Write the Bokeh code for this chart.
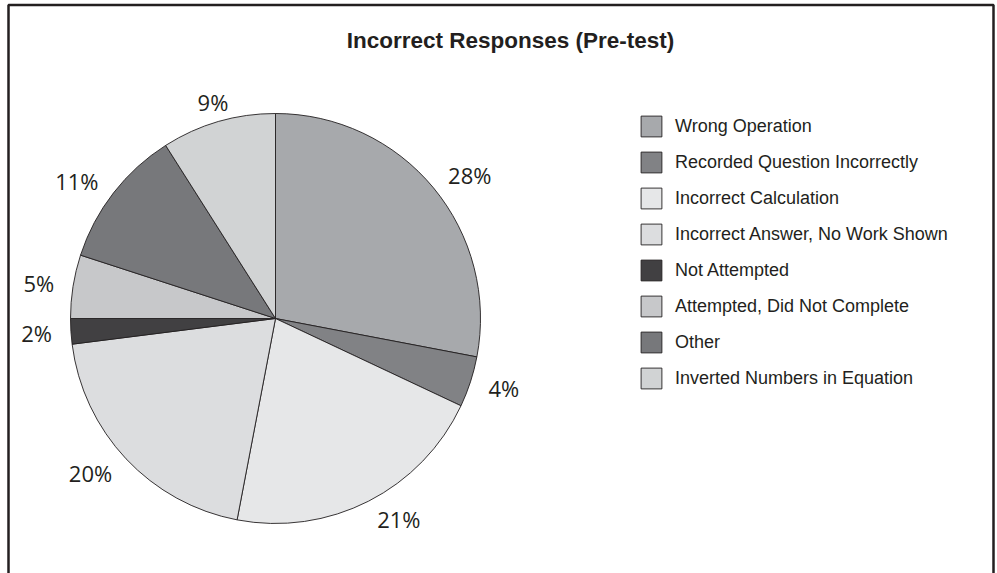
import math
from bokeh.plotting import figure
from bokeh.models import ColumnDataSource, Range1d, Legend, LegendItem, Label
from bokeh.core.properties import value
from bokeh.embed import file_html
from bokeh.resources import INLINE

# ---- data ----
categories = [
    "Wrong Operation",
    "Recorded Question Incorrectly",
    "Incorrect Calculation",
    "Incorrect Answer, No Work Shown",
    "Not Attempted",
    "Attempted, Did Not Complete",
    "Other",
    "Inverted Numbers in Equation",
]
percents = [28, 4, 21, 20, 2, 5, 11, 9]
colors = ["#a7a9ac", "#818285", "#e6e7e8", "#dcdddf", "#414042", "#c7c8ca", "#77787b", "#d1d3d4"]
title_text = "Incorrect Responses (Pre-test)"

# ---- layout constants ----
W, H = 997, 573
CX, CY = 275, H - 318
RADIUS = 205
INK = "#231f20"

total = float(sum(percents))
starts, ends, lx, ly, aligns, texts = [], [], [], [], [], []
cum = 0.0
for v in percents:
    before = cum
    cum += v
    s = math.pi / 2 - 2 * math.pi * cum / total
    e = math.pi / 2 - 2 * math.pi * before / total
    starts.append(s)
    ends.append(e)
    mid = (s + e) / 2
    c, sn = math.cos(mid), math.sin(mid)
    R = RADIUS + 15
    lx.append(CX + R * c + 4 * c)
    ly.append(CY + R * sn + 5 * sn)
    aligns.append("left" if c > 0.3 else ("right" if c < -0.3 else "center"))
    texts.append(f"{v}%")

src = ColumnDataSource(dict(cat=categories, val=percents, color=colors,
                            start=starts, end=ends))
lab = ColumnDataSource(dict(x=lx, y=ly, text=texts, align=aligns))

p = figure(width=W, height=H, x_range=Range1d(0, W), y_range=Range1d(0, H),
           x_axis_type=None, y_axis_type=None, toolbar_location=None,
           output_backend="svg", min_border=0, outline_line_color=None)
p.grid.visible = False
p.background_fill_color = "white"

# frame border
p.line(x=[8, 8, 993, 993], y=[-10, H - 4.5, H - 4.5, -10], line_color=INK, line_width=2.5)

# pie wedges
renderers = []
for i in range(len(categories)):
    r = p.wedge(x=CX, y=CY, radius=RADIUS, start_angle=starts[i], end_angle=ends[i],
                fill_color=colors[i], line_color=INK, line_width=0.9)
    renderers.append(r)

# percentage labels
p.text(x="x", y="y", text="text", source=lab, text_align="align",
       text_baseline="middle", text_font=value("Open Sans"),
       text_font_size="22px", text_color=INK)

# title
p.add_layout(Label(x=510, y=H - 40, text=title_text, text_align="center",
                   text_baseline="middle", text_font="Liberation Sans",
                   text_font_style="bold", text_font_size="22.5px", text_color=INK))

# legend
items = [LegendItem(label=categories[i], renderers=[renderers[i]]) for i in range(len(categories))]
legend = Legend(items=items, location=(638, 182), orientation="vertical",
                glyph_width=26, glyph_height=26, spacing=10, label_standoff=11,
                padding=0, margin=0, border_line_alpha=0, background_fill_alpha=0,
                label_text_font="Liberation Sans", label_text_font_size="18px",
                label_text_color=INK, label_height=20)
p.add_layout(legend, "center")

open("out.html", "w").write(file_html(p, INLINE))
